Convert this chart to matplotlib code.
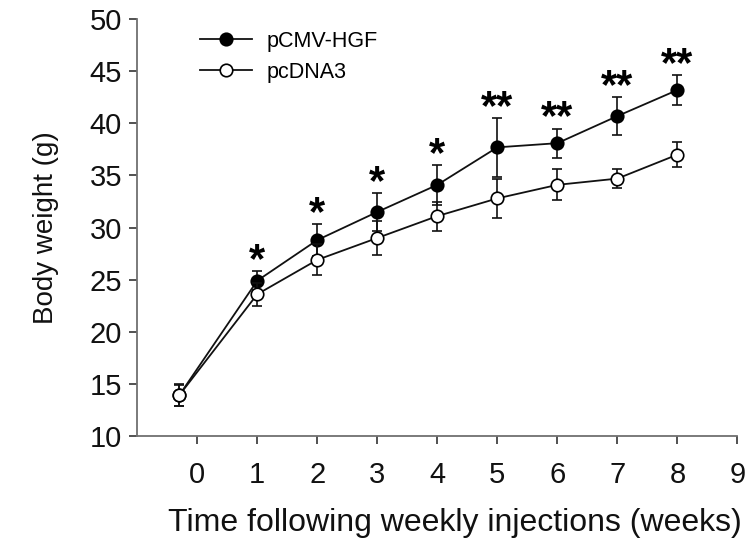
import numpy as np
import matplotlib.pyplot as plt
from matplotlib.lines import Line2D

plt.rcParams['font.family'] = ['Liberation Sans', 'DejaVu Sans']

# ---------------------
# Data
# ---------------------

weeks = [-0.3, 1, 2, 3, 4, 5, 6, 7, 8]

hgf_mean = [13.9, 24.9, 28.8, 31.5, 34.1, 37.7, 38.1, 40.7, 43.2]
hgf_err = [1.0, 0.9, 1.5, 1.8, 1.9, 2.8, 1.4, 1.8, 1.4]

dna3_mean = [13.9, 23.6, 26.9, 29.0, 31.1, 32.8, 34.1, 34.7, 37.0]
dna3_err = [1.05, 1.1, 1.5, 1.6, 1.4, 1.9, 1.5, 0.95, 1.2]

# significance marks above the pCMV-HGF points
star_weeks = [1, 2, 3, 4, 5, 6, 7, 8]
star_labels = ['*', '*', '*', '*', '**', '**', '**', '**']

x_ticks = list(range(0, 10))
y_ticks = list(range(10, 55, 5))


fig = plt.figure(figsize=(7.54, 5.49), dpi=100)
ax = fig.add_axes([0.182, 0.206, 0.796, 0.759])

ax.errorbar(weeks, hgf_mean, yerr=hgf_err, color='#111111', lw=1.3,
            marker='o', ms=9, mfc='black', mec='black', mew=1.2,
            ecolor='#111111', elinewidth=1.2, capsize=3.5, capthick=1.2,
            zorder=3)
ax.errorbar(weeks, dna3_mean, yerr=dna3_err, color='#111111', lw=1.3,
            marker='o', ms=9, mfc='white', mec='black', mew=1.2,
            ecolor='#111111', elinewidth=1.2, capsize=3.5, capthick=1.2,
            zorder=4)

for wk, lab in zip(star_weeks, star_labels):
    i = weeks.index(wk)
    top = hgf_mean[i] + hgf_err[i]
    ax.annotate(lab, (wk, top), xytext=(0, -7), textcoords='offset points',
                ha='center', va='bottom', fontsize=30, fontweight='bold')

ax.set_xlim(-1, 9)
ax.set_ylim(10, 50)
ax.set_xticks(x_ticks)
ax.set_yticks(y_ticks)

for side in ['top', 'right']:
    ax.spines[side].set_visible(False)
for side in ['left', 'bottom']:
    ax.spines[side].set_color('#707070')
    ax.spines[side].set_linewidth(1.3)

ax.tick_params(axis='both', direction='out', length=6, width=1.2,
               colors='#333333', labelcolor='#111111', labelsize=21)
ax.tick_params(axis='x', pad=12)
ax.tick_params(axis='y', pad=5)

ax.set_xlabel('Time following weekly injections (weeks)', fontsize=23,
              labelpad=14, color='#111111')
ax.xaxis.label.set_x(0.53)
ax.set_ylabel('Body weight (g)', fontsize=20, labelpad=22, color='#111111')

handles = [
    Line2D([], [], color='#111111', lw=1.3, marker='o', ms=9,
           mfc='black', mec='black', mew=1.2),
    Line2D([], [], color='#111111', lw=1.3, marker='o', ms=9,
           mfc='white', mec='black', mew=1.2),
]
ax.legend(handles, ['pCMV-HGF', 'pcDNA3'], loc='upper left',
          bbox_to_anchor=(0.105, 0.972), frameon=False,
          fontsize=15.5, handlelength=2.4, handletextpad=0.7,
          labelspacing=0.45, borderpad=0, borderaxespad=0)

fig.savefig('out.png', dpi=100)
